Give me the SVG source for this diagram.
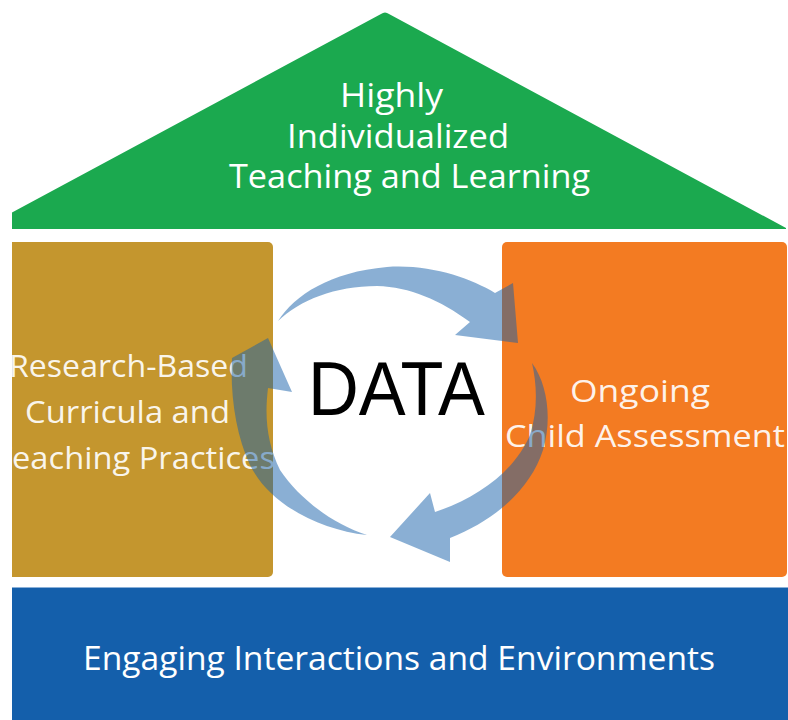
<svg xmlns="http://www.w3.org/2000/svg" width="788" height="720" viewBox="0 0 788 720">
<style>
.lbl{font-family:"Open Sans","Liberation Sans",sans-serif;fill:#ffffff}
.box{fill-opacity:1}
.arrow{fill:#155FA9;fill-opacity:0.5}
</style>
<defs>
<clipPath id="crop"><rect x="12" y="0" width="776" height="720"/></clipPath>
</defs>
<rect width="788" height="720" fill="#ffffff"/>
<g clip-path="url(#crop)">
<g id="roof">
<path d="M11,213 L381,14 Q385,11 389,14 L786,228 L786,229 L11,229 Z" fill="#1BA94F"/>
<text class="lbl" x="340" y="107" font-size="33" textLength="103" lengthAdjust="spacingAndGlyphs">Highly</text>
<text class="lbl" x="287" y="148" font-size="33" textLength="222" lengthAdjust="spacingAndGlyphs">Individualized</text>
<text class="lbl" x="229" y="188" font-size="33" textLength="361" lengthAdjust="spacingAndGlyphs">Teaching and Learning</text>
</g>
<g id="left-pillar">
<rect x="4" y="242" width="269" height="335" rx="5" fill="#C4962E"/>
<text class="lbl" x="9" y="377" font-size="31" fill-opacity="0.92" textLength="239" lengthAdjust="spacingAndGlyphs">Research-Based</text>
<text class="lbl" x="25" y="423" font-size="31" fill-opacity="0.92" textLength="205" lengthAdjust="spacingAndGlyphs">Curricula and</text>
<text class="lbl" x="-6" y="469" font-size="31" fill-opacity="0.92" textLength="281" lengthAdjust="spacingAndGlyphs">Teaching Practices</text>
</g>
<g id="right-pillar">
<rect x="502" y="242" width="285" height="335" rx="5" fill="#F37B22"/>
<text class="lbl" x="570" y="402" font-size="31" fill-opacity="0.92" textLength="140" lengthAdjust="spacingAndGlyphs">Ongoing</text>
<text class="lbl" x="505" y="447" font-size="31" fill-opacity="0.92" textLength="280" lengthAdjust="spacingAndGlyphs">Child Assessment</text>
</g>
<g id="foundation">
<rect x="12" y="587" width="776" height="133" fill="#145FAB"/>
<line x1="12" y1="587.5" x2="788" y2="587.5" stroke="#8AB0D8" stroke-width="1"/>
<text class="lbl" x="83" y="670" font-size="32" textLength="632" lengthAdjust="spacingAndGlyphs">Engaging Interactions and Environments</text>
</g>
<g id="connectors">
<path class="arrow" d="M278,321 C295,295 330,272 387,267 C430,264 470,278 495,293 L513,283 L518,343 L455,335 L470,322 C440,300 410,287 377,286 C335,286 300,300 278,321 Z"/>
<path class="arrow" d="M532,363 C548,385 552,420 543,450 C530,490 495,520 450,538 L450,562 L390,537 L430,493 L435,512 C480,497 515,470 530,435 C538,410 537,385 532,363 Z"/>
<path class="arrow" d="M367,535 C320,530 270,505 250,465 C236,435 230,395 232,358 L268,338 L292,392 L268,388 C264,420 268,445 280,470 C300,500 335,525 367,535 Z"/>
</g>
<g id="data">
<text x="308" y="415" font-family="'Liberation Sans',Arial,sans-serif" font-size="76" fill="#000000" textLength="177" lengthAdjust="spacingAndGlyphs">DATA</text>
</g>
</g>
</svg>
